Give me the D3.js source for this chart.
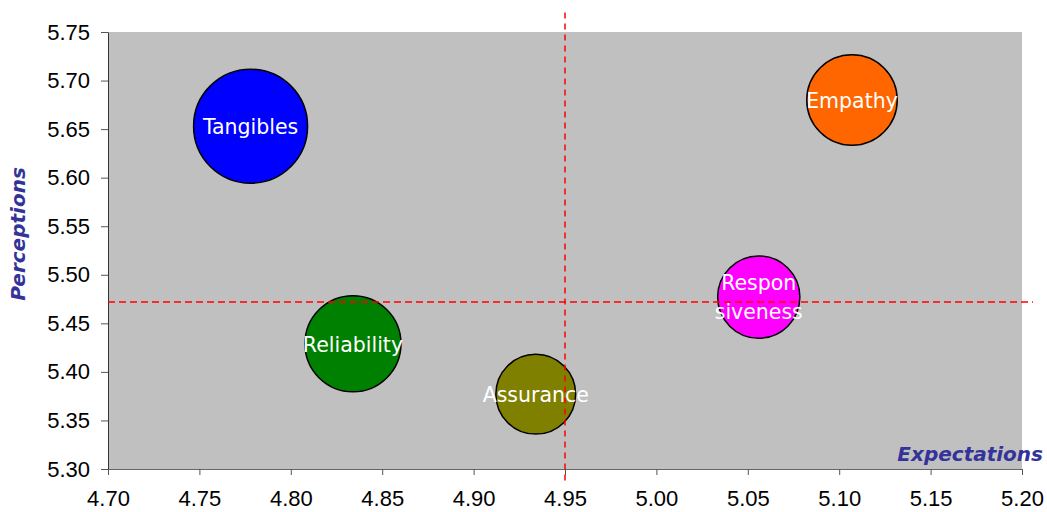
<!DOCTYPE html>
<html>
<head>
<meta charset="utf-8">
<script src="https://cdn.jsdelivr.net/npm/d3@7"></script>
<style>
  body { margin: 0; background: #fff; }
  svg { display: block; }
</style>
</head>
<body>
<svg id="chart" width="1047" height="512"></svg>
<script>
// Data
const categories = ["Tangibles", "Reliability", "Assurance", "Responsiveness", "Empathy"];
const labelLines = [["Tangibles"], ["Reliability"], ["Assurance"], ["Respon", "siveness"], ["Empathy"]];
const expectations = [4.778, 4.834, 4.934, 5.056, 5.107];
const perceptions = [5.653, 5.429, 5.377, 5.477, 5.680];
const bubbleSizes = [1.00, 0.71, 0.49, 0.52, 0.63];
const colors = ["#0000ff", "#008000", "#808000", "#ff00ff", "#ff6600"];
const xTicks = [4.70, 4.75, 4.80, 4.85, 4.90, 4.95, 5.00, 5.05, 5.10, 5.15, 5.20];
const yTicks = [5.30, 5.35, 5.40, 5.45, 5.50, 5.55, 5.60, 5.65, 5.70, 5.75];
const meanExpectation = 4.95;
const meanPerception = 5.472;
const vLineRange = [5.287, 5.77];
const hLineRange = [4.70, 5.206];

const svg = d3.select("#chart");
const plot = { left: 108, top: 32, right: 1022, bottom: 469 };

const x = d3.scaleLinear().domain([4.70, 5.20]).range([plot.left, plot.right]);
const y = d3.scaleLinear().domain([5.30, 5.75]).range([plot.bottom, plot.top]);
const r = d3.scaleSqrt().domain([0, d3.max(bubbleSizes)]).range([0, 57]);

// Plot background
svg.append("rect")
  .attr("x", plot.left).attr("y", plot.top)
  .attr("width", plot.right - plot.left).attr("height", plot.bottom - plot.top)
  .attr("fill", "#c0c0c0");

// Axes
const fmt = d3.format(".2f");
const yAxis = svg.append("g")
  .attr("transform", `translate(${plot.left},0)`)
  .call(d3.axisLeft(y).tickValues(yTicks).tickFormat(fmt).tickSizeInner(7).tickSizeOuter(0).tickPadding(11));
yAxis.select(".domain").attr("stroke", "#333");
yAxis.selectAll(".tick line").attr("stroke", "#555");
yAxis.selectAll("text").attr("font-family", "Liberation Sans, Arial, sans-serif").attr("font-size", 22).attr("fill", "#000");

const xAxis = svg.append("g")
  .attr("transform", `translate(0,${plot.bottom})`)
  .call(d3.axisBottom(x).tickValues(xTicks).tickFormat(fmt).tickSizeInner(6).tickSizeOuter(0).tickPadding(15));
xAxis.select(".domain").attr("stroke", "#666");
xAxis.selectAll(".tick line").attr("stroke", "#555");
xAxis.selectAll("text").attr("font-family", "Liberation Sans, Arial, sans-serif").attr("font-size", 22).attr("fill", "#000");

// Bubbles
const data = categories.map((c, i) => ({
  name: c, lines: labelLines[i], ex: expectations[i], pe: perceptions[i], size: bubbleSizes[i], color: colors[i]
}));

const g = svg.append("g");
g.selectAll("circle").data(data).enter().append("circle")
  .attr("cx", d => x(d.ex)).attr("cy", d => y(d.pe)).attr("r", d => r(d.size))
  .attr("fill", d => d.color).attr("stroke", "#000").attr("stroke-width", 1.5);

// Reference lines
svg.append("line")
  .attr("x1", x(meanExpectation)).attr("x2", x(meanExpectation))
  .attr("y1", y(vLineRange[1])).attr("y2", y(vLineRange[0]))
  .attr("stroke", "#ff0000").attr("stroke-width", 1.5).attr("stroke-dasharray", "6,5");
svg.append("line")
  .attr("x1", x(hLineRange[0])).attr("x2", x(hLineRange[1]))
  .attr("y1", y(meanPerception)).attr("y2", y(meanPerception))
  .attr("stroke", "#ff0000").attr("stroke-width", 1.5).attr("stroke-dasharray", "7,4");

// Bubble labels
const lineH = 29;
data.forEach(d => {
  const cx = x(d.ex), cy = y(d.pe);
  const n = d.lines.length;
  d.lines.forEach((t, j) => {
    svg.append("text")
      .attr("x", cx)
      .attr("y", cy + (j - (n - 1) / 2) * lineH)
      .attr("dy", "0.38em")
      .attr("text-anchor", "middle")
      .attr("font-family", "DejaVu Sans, Verdana, sans-serif")
      .attr("font-size", 20.5)
      .attr("fill", "#fff")
      .text(t);
  });
});

// Axis titles
svg.append("text")
  .attr("x", 1043).attr("y", 461)
  .attr("text-anchor", "end")
  .attr("font-family", "DejaVu Sans, Verdana, sans-serif")
  .attr("font-size", 20).attr("font-weight", "bold").attr("font-style", "italic")
  .attr("fill", "#333399")
  .text("Expectations");

svg.append("text")
  .attr("transform", "translate(25,234) rotate(-90)")
  .attr("text-anchor", "middle")
  .attr("font-family", "DejaVu Sans, Verdana, sans-serif")
  .attr("font-size", 20).attr("font-weight", "bold").attr("font-style", "italic")
  .attr("fill", "#333399")
  .text("Perceptions");
</script>
</body>
</html>
